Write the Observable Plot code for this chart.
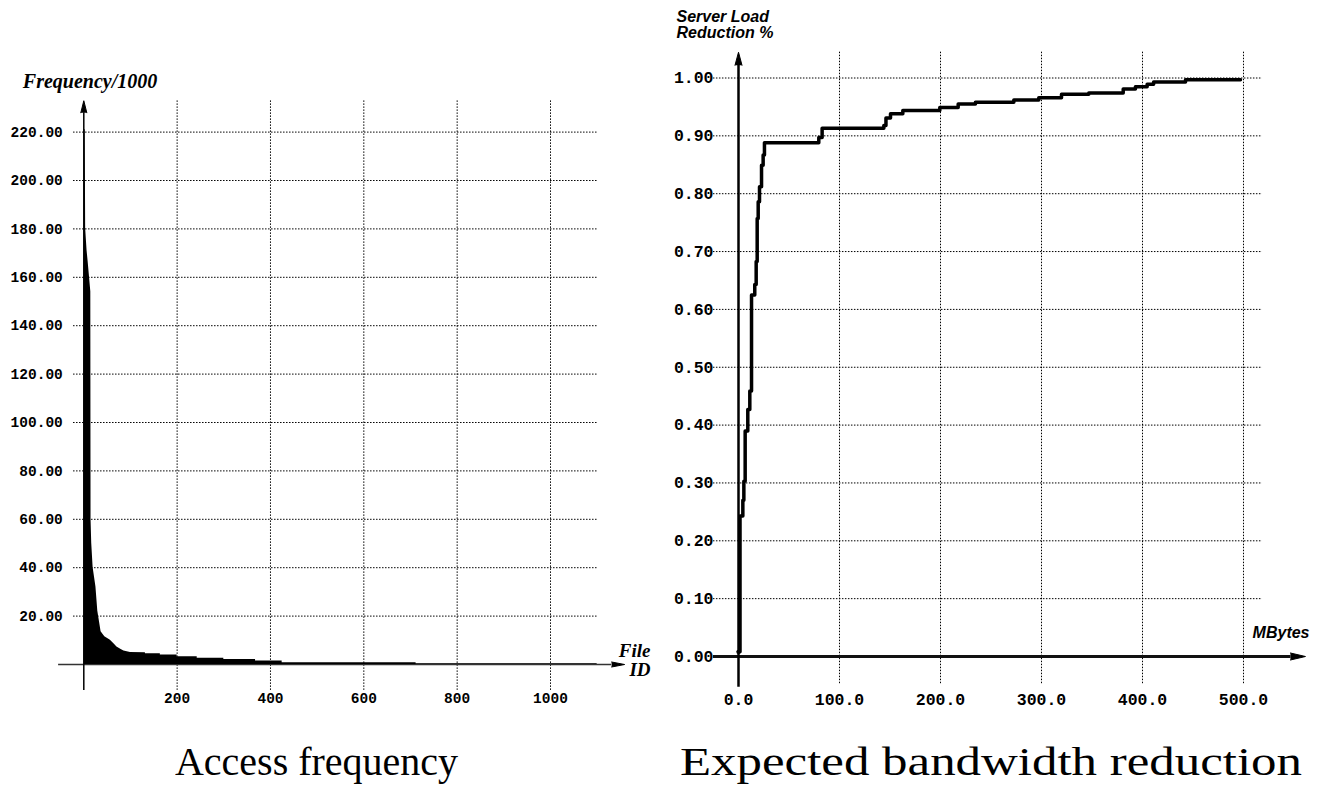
<!DOCTYPE html>
<html><head><meta charset="utf-8">
<script src="https://cdn.jsdelivr.net/npm/d3@7"></script>
<script src="https://cdn.jsdelivr.net/npm/@observablehq/plot@0.6"></script>
<style>
body{margin:0;background:#fff;}
#wrap{position:relative;width:1322px;height:790px;overflow:hidden;background:#fff;}
#left{position:absolute;left:0;top:0;}
#right{position:absolute;left:660px;top:0;}
.cap{position:absolute;font-family:"Liberation Serif",serif;font-size:40px;white-space:nowrap;transform-origin:left top;line-height:1;color:#000;}
</style></head><body>
<div id="wrap"><div id="left"></div><div id="right"></div>
<div class="cap" id="cap1">Access frequency</div>
<div class="cap" id="cap2">Expected bandwidth reduction</div></div>
<script>
// Left chart: access frequency per file (in thousands)
const fileIds = [1, 3, 4, 7, 9.5, 15, 15.5, 17, 20, 26, 30, 37, 45, 57, 65, 71, 80, 86, 100, 132, 132, 164, 164, 200, 200, 243, 243, 300, 300, 368, 368, 425, 425, 712, 712, 1100];
const freqs = [221, 221, 180, 171, 166, 154, 60, 50, 40, 32, 22, 13.5, 11.5, 10, 8.5, 7.2, 6.2, 5.6, 5.0, 4.9, 4.4, 4.4, 3.9, 3.9, 3.2, 3.2, 2.6, 2.6, 2.1, 2.1, 1.4, 1.4, 0.7, 0.7, 0.3, 0.3];
const freqTicks = [20, 40, 60, 80, 100, 120, 140, 160, 180, 200, 220];
const idTicks = [200, 400, 600, 800, 1000];

// Right chart: server load reduction vs cache size (MBytes)
const mbytes = [0, 1.5, 4.3, 5.3, 6.6, 9.2, 11.2, 12.9, 16.1, 17.5, 18.5, 19.5, 20.8, 22.8, 24.4, 25.7, 79.5, 82.8, 143.9, 146, 150.5, 162.7, 199.3, 217.5, 234.6, 272.6, 297.3, 319.8, 346.8, 380.9, 393, 404.6, 411, 442.6, 497];
const reduction = [0.008, 0.243, 0.27, 0.303, 0.39, 0.427, 0.459, 0.625, 0.643, 0.683, 0.757, 0.786, 0.812, 0.849, 0.867, 0.888, 0.897, 0.913, 0.918, 0.931, 0.938, 0.944, 0.949, 0.955, 0.958, 0.962, 0.966, 0.972, 0.974, 0.981, 0.985, 0.989, 0.993, 0.997, 0.997];
const reductionTicks = [0, 0.1, 0.2, 0.3, 0.4, 0.5, 0.6, 0.7, 0.8, 0.9, 1.0];
const mbTicks = [0, 100, 200, 300, 400, 500];

const mono = "'Liberation Mono', 'Courier New', monospace";
const serif = "'Liberation Serif', 'Times New Roman', serif";
const sans = "'Liberation Sans', Arial, sans-serif";
const grid = {stroke: "#000", strokeWidth: 1, strokeDasharray: "1.5,1.5"};

const freqData = fileIds.map((id, i) => ({id, f: freqs[i]}));
const left = Plot.plot({
  width: 660, height: 720,
  style: {background: "transparent", overflow: "visible"},
  x: {domain: [0, 1000], range: [83.3, 550], axis: null},
  y: {domain: [0, 220], range: [664, 131.6], axis: null},
  marks: [
    Plot.ruleY(freqTicks, {y: d => d, x1: -22, x2: 1100, ...grid}),
    Plot.ruleX(idTicks, {x: d => d, y1: -10.7, y2: 233, ...grid}),
    Plot.ruleY([0], {x1: -54, x2: 1131, stroke: "#333", strokeWidth: 1.5}),
    Plot.vector([0], {x: 1131, y: 0, length: 13, rotate: 90, shape: "spike", r: 2.5, anchor: "start", fill: "#000", stroke: "#000", strokeWidth: 1}),
    Plot.ruleX([0], {y1: -10.7, y2: 228, stroke: "#000", strokeWidth: 1.5}),
    Plot.vector([0], {x: 0, y: 228, length: 12, rotate: 0, shape: "spike", r: 3, anchor: "start", fill: "#000", stroke: "#000", strokeWidth: 1}),
    Plot.area(freqData, {x1: "id", y1: 0, y2: "f", fill: "#000", curve: "linear"}),
    Plot.text(freqTicks, {x: 0, y: d => d, text: d => d.toFixed(2), dx: -21, textAnchor: "end", fontFamily: mono, fontWeight: "bold", fontSize: 14.5, fill: "#000", ariaLabel: "ltick"}),
    Plot.text(idTicks, {x: d => d, y: 0, text: d => String(d), dy: 34, fontFamily: mono, fontWeight: "bold", fontSize: 14.5, fill: "#000", ariaLabel: "ltick"}),
    Plot.text(["Frequency/1000"], {x: 0, y: 220, dx: -61, dy: -44, textAnchor: "start", lineAnchor: "bottom", fontFamily: serif, fontStyle: "italic", fontWeight: "bold", fontSize: 20, fill: "#000"}),
    Plot.text(["File\nID"], {x: 1000, y: 0, dx: 100, dy: 11, textAnchor: "end", lineAnchor: "bottom", lineHeight: 1, fontFamily: serif, fontStyle: "italic", fontWeight: "bold", fontSize: 19, fill: "#000"})
  ]
});
document.getElementById("left").appendChild(left);
d3.select(left).selectAll('g[aria-label="ltick"] text').style("letter-spacing", "1.4px");

const redData = mbytes.map((m, i) => ({m, r: reduction[i]}));
const right = Plot.plot({
  width: 662, height: 720,
  style: {background: "transparent", overflow: "visible"},
  x: {domain: [0, 500], range: [78, 583], axis: null},
  y: {domain: [0, 1], range: [656, 77.5], axis: null},
  marks: [
    Plot.ruleY(reductionTicks.filter(d => d > 0), {y: d => d, x1: -24.8, x2: 518.8, ...grid}),
    Plot.ruleX(mbTicks.filter(d => d > 0), {x: d => d, y1: -0.047, y2: 1.047, ...grid}),
    Plot.ruleY([0], {x1: -24.8, x2: 547, stroke: "#111", strokeWidth: 3}),
    Plot.vector([0], {x: 546.5, y: 0, length: 15, rotate: 90, shape: "spike", r: 3.5, anchor: "start", fill: "#000", stroke: "#000", strokeWidth: 1}),
    Plot.ruleX([0], {y1: -0.053, y2: 1.023, stroke: "#000", strokeWidth: 2.5}),
    Plot.vector([0], {x: 0, y: 1.022, length: 13, rotate: 0, shape: "spike", r: 3.5, anchor: "start", fill: "#000", stroke: "#000", strokeWidth: 1}),
    Plot.line(redData, {x: "m", y: "r", curve: "step-after", stroke: "#000", strokeWidth: 3.5}),
    Plot.dot(redData.slice(0, 1), {x: "m", y: "r", r: 2.2, fill: "#000"}),
    Plot.text(reductionTicks, {x: 0, y: d => d, text: d => d.toFixed(2), dx: -25, textAnchor: "end", fontFamily: mono, fontWeight: "bold", fontSize: 16.5, fill: "#000"}),
    Plot.text(mbTicks, {x: d => d, y: 0, text: d => d.toFixed(1), dy: 43, fontFamily: mono, fontWeight: "bold", fontSize: 16.5, fill: "#000"}),
    Plot.text(["Server Load\nReduction %"], {x: 0, y: 1, dx: -62, dy: -39.8, textAnchor: "start", lineAnchor: "bottom", lineHeight: 1, fontFamily: sans, fontStyle: "italic", fontWeight: "bold", fontSize: 16, fill: "#000"}),
    Plot.text(["MBytes"], {x: 500, y: 0, dx: 66, dy: -19, textAnchor: "end", lineAnchor: "bottom", fontFamily: sans, fontStyle: "italic", fontWeight: "bold", fontSize: 16, fill: "#000"})
  ]
});
document.getElementById("right").appendChild(right);

// Captions below each chart, stretched to the reference widths
function placeCaption(id, x0, x1, baseline) {
  const el = document.getElementById(id);
  const w = el.getBoundingClientRect().width;
  el.style.left = x0 + "px";
  el.style.top = (baseline - 33) + "px";
  el.style.transform = `scaleX(${(x1 - x0) / w})`;
}
placeCaption("cap1", 175, 458, 775);
placeCaption("cap2", 680, 1302, 775);
</script>
</body></html>
